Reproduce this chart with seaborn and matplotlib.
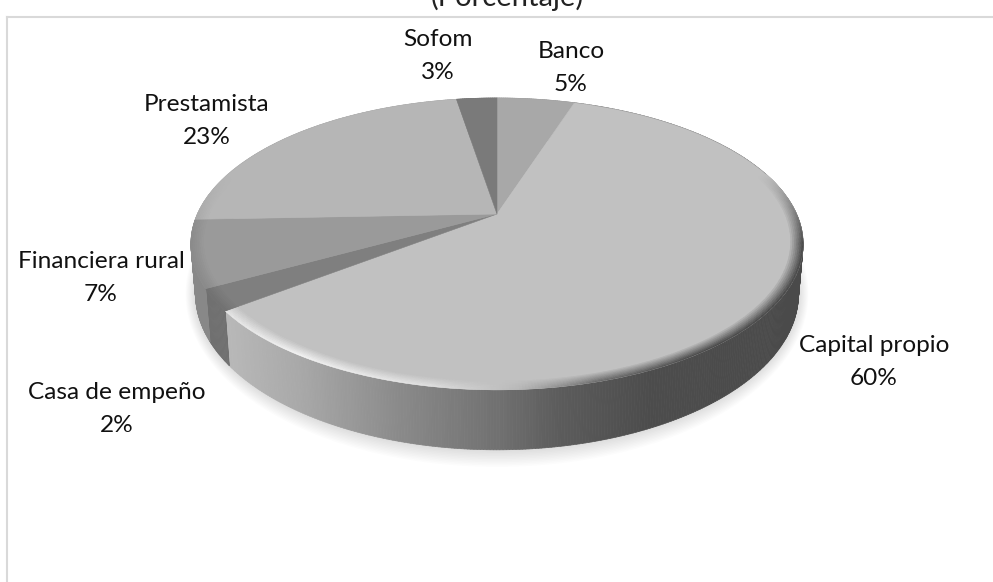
import numpy as np
import seaborn as sns
import matplotlib
matplotlib.use('Agg')
import matplotlib.pyplot as plt
from matplotlib.collections import PolyCollection
from matplotlib.transforms import Transform

categories = ['Banco', 'Capital propio', 'Casa de empeño', 'Financiera rural', 'Prestamista', 'Sofom']
values = [5, 59.6, 2.4, 7.4, 23, 2.6]
title_text = '(Porcentaje)'

slice_colors = ['#a8a8a8', '#c1c1c1', '#7f7f7f', '#9a9a9a', '#b6b6b6', '#7a7a7a']
label_pos = [(571, 68), (874, 362), (117, 409), (101, 278), (207, 121), (438, 56)]

# apex of the pie on the canvas, the tilt is a small perspective
APEX = (497, 214)
WIDE = 299.6
TALL = 139.8
K = 0.205


def tilt(xy):
    xy = np.atleast_2d(xy)
    den = 1 + K * xy[:, 1]
    return np.column_stack([APEX[0] + WIDE * xy[:, 0] / den, APEX[1] - TALL * xy[:, 1] / den])


def lower(xy):
    # same rim, dropped down for the bottom of the disc
    p = tilt(xy)
    return np.column_stack([APEX[0] + (p[:, 0] - APEX[0]) * 0.985, APEX[1] + (p[:, 1] - APEX[1]) * 1.068 + 48])


class TiltTransform(Transform):
    input_dims = 2
    output_dims = 2
    is_separable = False

    def transform_non_affine(self, values):
        return tilt(values)


def rim(theta, r=1.0):
    a = np.radians(theta)
    return np.column_stack([r * np.cos(a), r * np.sin(a)])


def grey(v):
    return (v, v, v)


sns.set_theme(style='white')
plt.rcParams['font.family'] = ['Lato', 'DejaVu Sans']

fig = plt.figure(figsize=(9.93, 5.82), dpi=100)
ax = fig.add_axes([7 / 993, 0, 986 / 993, 565 / 582])

wedges, _ = ax.pie(values, colors=sns.color_palette(slice_colors), startangle=90,
                   counterclock=False, wedgeprops=dict(linewidth=0.4), frame=True)
ax.set_aspect('auto')
ax.set_xlim(7, 993)
ax.set_ylim(582, 17)
ax.set_xticks([])
ax.set_yticks([])

to_canvas = TiltTransform() + ax.transData
for w, c in zip(wedges, slice_colors):
    w.set_transform(to_canvas)
    w.set_edgecolor(c)
    w.set_zorder(5)

# soft shadow under the disc
all_theta = np.linspace(0, 360, 361)
for grow in np.linspace(1.0, 1.11, 12):
    ring = lower(rim(all_theta, 1.0))
    cx, cy = APEX[0], 294
    ring = np.column_stack([cx + (ring[:, 0] - cx) * (1 + (grow - 1) * 0.3), cy + (ring[:, 1] - cy) * grow])
    ax.fill(ring[:, 0], ring[:, 1], color='#000000', alpha=0.012, lw=0, zorder=1)

# side wall, strip by strip along each slice
xs_shade = [200, 230, 300, 400, 500, 560, 650, 810]
capital_shade = [0.70, 0.72, 0.66, 0.54, 0.44, 0.36, 0.30, 0.29]
side_polys, side_cols = [], []
bevel_polys, bevel_cols = [], []
for w, c, name in zip(wedges, slice_colors, categories):
    th = np.arange(w.theta1, w.theta2 + 0.5, 0.5)
    th[-1] = w.theta2
    top = tilt(rim(th))
    bot = lower(rim(th))
    base = matplotlib.colors.to_rgb(c)[0]
    for i in range(len(th) - 1):
        mid_x = (top[i, 0] + top[i + 1, 0]) / 2
        if name == 'Capital propio':
            v = np.interp(mid_x, xs_shade, capital_shade)
        else:
            v = base * 0.88
        side_polys.append([top[i], top[i + 1], bot[i + 1], bot[i]])
        side_cols.append(grey(v))
        # rounded edge between the top face and the wall, fades out towards the back
        weight = np.clip((0.3 - np.sin(np.radians((th[i] + th[i + 1]) / 2))) / 0.5, 0, 1)
        if weight == 0:
            continue
        light = np.interp(mid_x, [225, 300, 430, 520, 600], [0.90, 0.95, 0.88, 0.72, 0.42])
        for r0, r1 in zip(np.linspace(0.955, 0.995, 8), np.linspace(0.96, 1.0, 8)):
            blend = (r0 - 0.955) / 0.04 * weight
            target = light if name == 'Capital propio' else base * 0.9
            target = np.interp(mid_x, [0, 600, 700, 1000], [target, target, capital_shade[-1], capital_shade[-1]])
            a = rim(np.array([th[i], th[i + 1]]), r0)
            b = rim(np.array([th[i], th[i + 1]]), r1)
            bevel_polys.append(np.vstack([tilt(a), tilt(b)[::-1]]))
            bevel_cols.append(grey(base + (target - base) * blend))

ax.add_collection(PolyCollection(side_polys, facecolors=side_cols, edgecolors=side_cols, linewidths=0.5, zorder=3))
ax.add_collection(PolyCollection(bevel_polys, facecolors=bevel_cols, edgecolors=bevel_cols, linewidths=0.3, zorder=6))

for name, v, (x, y) in zip(categories, values, label_pos):
    ax.text(x, y, f'{name}\n{v:.0f}%', ha='center', va='center', fontsize=17.6, color='#111111',
            linespacing=1.72, zorder=10)

ax.text(507, 6, title_text, ha='center', va='baseline', fontsize=21, color='#222222')

sns.despine(ax=ax, top=False, right=True, bottom=True)
for side in ['left', 'top']:
    ax.spines[side].set_color('#d9d9d9')
    ax.spines[side].set_linewidth(1.5)

fig.savefig('out.png', dpi=100)
